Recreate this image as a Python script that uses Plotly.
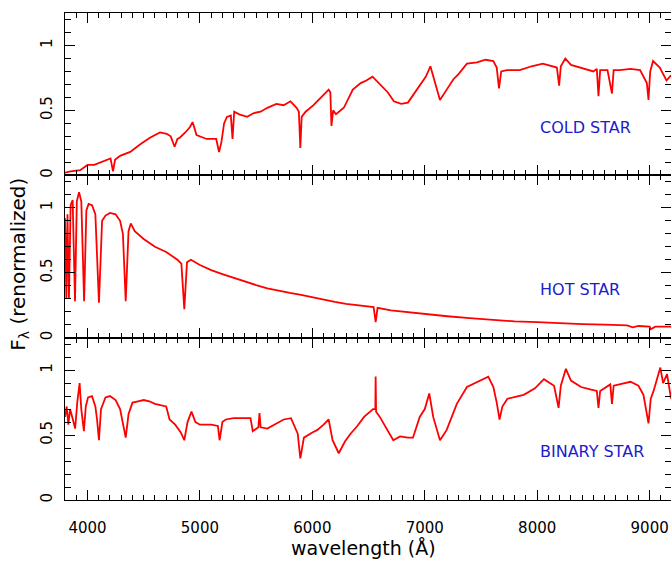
import plotly.graph_objects as go
from plotly.subplots import make_subplots

# ---------------- data ----------------
cold_wl = [3800, 3850, 3935, 4000, 4060, 4115, 4205, 4227, 4245, 4290, 4380, 4470, 4555, 4645, 4705,
           4740, 4775, 4800, 4820, 4870, 4910, 4935, 4970, 5060, 5145, 5170, 5190, 5215, 5240, 5275,
           5290, 5305, 5350, 5420, 5480, 5540, 5600, 5680, 5745, 5805, 5860, 5880, 5893, 5905, 5940,
           6010, 6100, 6145, 6160, 6170, 6185, 6210, 6280, 6360, 6430, 6480, 6535, 6580, 6620, 6670,
           6725, 6790, 6850, 6935, 7010, 7050, 7070, 7095, 7135, 7195, 7255, 7300, 7375, 7465, 7540,
           7610, 7640, 7660, 7680, 7730, 7845, 7950, 8050, 8175, 8195, 8210, 8250, 8300, 8385, 8500,
           8530, 8545, 8560, 8625, 8665, 8680, 8735, 8830, 8915, 8975, 8990, 9005, 9030, 9090, 9150,
           9190]
cold_flux = [0.02, 0.03, 0.04, 0.08, 0.08, 0.10, 0.13, 0.03, 0.12, 0.15, 0.18, 0.24, 0.29, 0.33, 0.32,
             0.30, 0.22, 0.28, 0.29, 0.33, 0.37, 0.41, 0.31, 0.28, 0.28, 0.18, 0.25, 0.40, 0.45, 0.46,
             0.28, 0.49, 0.47, 0.45, 0.48, 0.49, 0.52, 0.55, 0.54, 0.57, 0.52, 0.49, 0.21, 0.45, 0.49,
             0.54, 0.62, 0.66, 0.64, 0.38, 0.50, 0.47, 0.52, 0.66, 0.71, 0.73, 0.76, 0.72, 0.68, 0.64,
             0.57, 0.55, 0.56, 0.67, 0.76, 0.84, 0.78, 0.72, 0.58, 0.66, 0.74, 0.78, 0.86, 0.87, 0.89,
             0.88, 0.83, 0.67, 0.80, 0.81, 0.81, 0.84, 0.86, 0.83, 0.69, 0.84, 0.90, 0.85, 0.83, 0.80,
             0.82, 0.61, 0.81, 0.81, 0.63, 0.81, 0.81, 0.82, 0.81, 0.71, 0.58, 0.80, 0.88, 0.83, 0.73,
             0.77]

hot_wl = [3800, 3812, 3822, 3835, 3850, 3868, 3889, 3905, 3925, 3945, 3970, 3990, 4010, 4040, 4070,
          4102, 4130, 4160, 4200, 4250, 4290, 4315, 4340, 4365, 4385, 4420, 4500, 4600, 4700, 4800,
          4835, 4861, 4885, 4920, 5000, 5100, 5200, 5300, 5400, 5500, 5600, 5700, 5800, 5900, 6000,
          6100, 6200, 6300, 6400, 6500, 6545, 6563, 6580, 6700, 6800, 6900, 7000, 7200, 7400, 7600,
          7800, 8000, 8200, 8400, 8600, 8800, 8850, 8900, 9000, 9010, 9050, 9190]
hot_flux = [0.92, 0.30, 0.95, 0.30, 1.02, 1.06, 0.28, 1.05, 1.12, 1.05, 0.28, 0.98, 1.03, 1.02, 0.95,
            0.27, 0.90, 0.94, 0.96, 0.95, 0.90, 0.80, 0.28, 0.82, 0.88, 0.82, 0.76, 0.70, 0.66, 0.60,
            0.57, 0.22, 0.58, 0.60, 0.56, 0.52, 0.49, 0.46, 0.43, 0.405, 0.38, 0.36, 0.345, 0.33, 0.31,
            0.29, 0.275, 0.26, 0.25, 0.24, 0.235, 0.12, 0.23, 0.21, 0.20, 0.19, 0.18, 0.165, 0.15, 0.135,
            0.125, 0.12, 0.11, 0.105, 0.10, 0.095, 0.08, 0.09, 0.085, 0.065, 0.085, 0.085]

bin_wl = [3800, 3815, 3830, 3845, 3870, 3890, 3910, 3930, 3945, 3968, 3985, 4005, 4040, 4070, 4085,
          4102, 4120, 4160, 4200, 4250, 4290, 4310, 4340, 4365, 4400, 4450, 4500, 4550, 4600, 4700,
          4730, 4780, 4830, 4861, 4890, 4925, 4960, 5000, 5100, 5160, 5175, 5200, 5230, 5300, 5400,
          5450, 5470, 5520, 5530, 5540, 5600, 5700, 5745, 5810, 5870, 5893, 5925, 6000, 6045, 6100,
          6145, 6180, 6235, 6290, 6340, 6400, 6460, 6540, 6560, 6563, 6567, 6600, 6650, 6720, 6780,
          6850, 6895, 6955, 7000, 7040, 7075, 7110, 7135, 7195, 7285, 7375, 7490, 7565, 7610, 7640,
          7665, 7690, 7735, 7880, 7980, 8060, 8150, 8190, 8210, 8240, 8255, 8300, 8390, 8480, 8530,
          8545, 8560, 8650, 8665, 8680, 8830, 8900, 8945, 8990, 9010, 9035, 9095, 9120, 9155, 9190]
bin_flux = [0.64, 0.72, 0.58, 0.70, 0.62, 0.55, 0.76, 0.90, 0.70, 0.53, 0.72, 0.79, 0.80, 0.72, 0.62,
            0.46, 0.70, 0.79, 0.80, 0.77, 0.70, 0.62, 0.48, 0.66, 0.75, 0.76, 0.77, 0.76, 0.74, 0.72,
            0.62, 0.58, 0.52, 0.46, 0.60, 0.68, 0.60, 0.58, 0.58, 0.57, 0.46, 0.60, 0.62, 0.63, 0.63,
            0.63, 0.53, 0.56, 0.67, 0.56, 0.55, 0.60, 0.62, 0.63, 0.51, 0.32, 0.48, 0.52, 0.54, 0.58,
            0.62, 0.46, 0.36, 0.45, 0.51, 0.57, 0.64, 0.70, 0.70, 0.95, 0.68, 0.64, 0.56, 0.46, 0.49,
            0.48, 0.48, 0.64, 0.70, 0.82, 0.64, 0.53, 0.46, 0.54, 0.74, 0.87, 0.92, 0.95, 0.87, 0.75,
            0.62, 0.72, 0.78, 0.81, 0.86, 0.93, 0.88, 0.71, 0.88, 0.97, 1.01, 0.92, 0.87, 0.85, 0.84,
            0.71, 0.84, 0.89, 0.74, 0.88, 0.91, 0.88, 0.81, 0.59, 0.78, 0.84, 1.02, 0.90, 0.97, 0.78]

panel_labels = ["COLD STAR", "HOT STAR", "BINARY STAR"]
x_ticks = [4000, 5000, 6000, 7000, 8000, 9000]
y_ticks = [0, 0.5, 1]
y_tick_text = ["0", "0.5", "1"]

# ---------------- figure ----------------
FONT = "DejaVu Sans"
fig = make_subplots(rows=3, cols=1, shared_xaxes=True, vertical_spacing=0)

series = [(cold_wl, cold_flux), (hot_wl, hot_flux), (bin_wl, bin_flux)]
for i, (wl, fl) in enumerate(series, start=1):
    fig.add_trace(go.Scatter(x=wl, y=fl, mode="lines",
                             line=dict(color="#ff0000", width=1.8),
                             showlegend=False, hoverinfo="skip"), row=i, col=1)

for i in range(1, 4):
    fig.update_xaxes(row=i, col=1, range=[3800, 9190], tickvals=x_ticks,
                     ticks="inside", ticklen=10, tickwidth=1.2, tickcolor="black",
                     minor=dict(dtick=100, tick0=0, ticks="inside", ticklen=5,
                                tickwidth=1.0, tickcolor="black"),
                     showline=True, linecolor="black", linewidth=1.3, mirror="allticks",
                     showgrid=False, zeroline=False,
                     showticklabels=(i == 3),
                     tickfont=dict(family=FONT, size=15, color="black"),
                     ticklabelstandoff=14)
    fig.update_yaxes(row=i, col=1, range=[0, 1.25], tickvals=y_ticks, ticktext=y_tick_text,
                     ticks="inside", ticklen=10, tickwidth=1.2, tickcolor="black",
                     minor=dict(dtick=0.1, tick0=0, ticks="inside", ticklen=6,
                                tickwidth=1.0, tickcolor="black"),
                     showline=True, linecolor="black", linewidth=1.3, mirror="allticks",
                     showgrid=False, zeroline=False, tickangle=-90,
                     tickfont=dict(family=FONT, size=15, color="black"),
                     ticklabelstandoff=6)

# panel labels
for i, lab in enumerate(panel_labels, start=1):
    fig.add_annotation(text=lab, x=8005, y=0.37, xref=f"x{i if i > 1 else ''}",
                       yref=f"y{i if i > 1 else ''}", xanchor="left", yanchor="middle",
                       showarrow=False, font=dict(family=FONT, size=16, color="#1c1ccc"))

# axis titles
fig.add_annotation(text="wavelength (Å)", xref="paper", yref="paper", x=0.492, y=-0.099,
                   xanchor="center", yanchor="middle", showarrow=False,
                   font=dict(family=FONT, size=19, color="black"))
fig.add_annotation(text="F<sub>λ</sub> (renormalized)", xref="paper", yref="paper",
                   x=-0.076, y=0.485, xanchor="center", yanchor="middle", textangle=-90,
                   showarrow=False, font=dict(family=FONT, size=20, color="black"))

fig.update_layout(width=671, height=561, paper_bgcolor="white", plot_bgcolor="white",
                  margin=dict(l=65, r=0, t=13, b=61, autoexpand=False))

fig.write_html("out.html", config={"displayModeBar": False},
               post_script="document.body.style.margin='0';document.body.style.overflow='hidden';")
